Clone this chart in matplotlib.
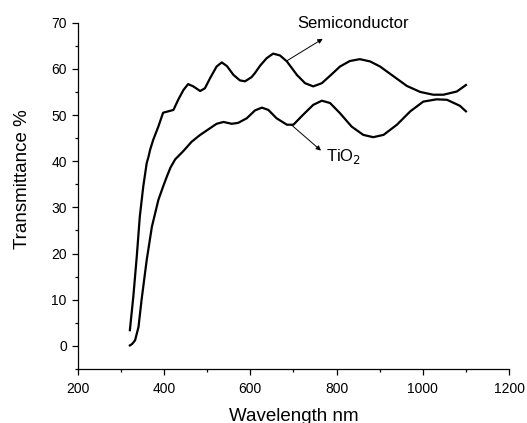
import matplotlib
matplotlib.use("Agg")
import matplotlib.pyplot as plt
from matplotlib.ticker import MultipleLocator

plt.rcParams['font.family'] = ['Liberation Sans', 'DejaVu Sans']

# =========================
# Data
# =========================
semi_nm = [321, 329, 337, 344, 352, 360, 364, 368, 375, 387, 398, 410, 422,
           433, 445, 456, 468, 484, 495, 507, 522, 534, 546, 561, 576, 588,
           603, 611, 623, 638, 653, 669, 685, 708, 727, 746, 766, 785, 808,
           831, 854, 878, 901, 932, 963, 994, 1024, 1048, 1079, 1100]
semi_T = [3.4, 10.7, 19.4, 28.0, 34.5, 39.6, 40.9, 42.5, 44.6, 47.5, 50.5,
          50.8, 51.1, 53.3, 55.4, 56.7, 56.2, 55.2, 55.8, 58.0, 60.5, 61.4,
          60.6, 58.7, 57.5, 57.3, 58.2, 59.1, 60.7, 62.3, 63.3, 62.9, 61.6,
          58.7, 56.9, 56.2, 56.9, 58.5, 60.5, 61.7, 62.1, 61.6, 60.5, 58.4,
          56.3, 55.0, 54.4, 54.4, 55.1, 56.5]

tio2_nm = [321, 326, 333, 341, 348, 360, 372, 387, 398, 406, 415, 426, 445,
           464, 484, 503, 522, 538, 557, 572, 592, 611, 627, 642, 661, 685,
           700, 723, 746, 766, 785, 808, 835, 862, 885, 909, 940, 971, 1001,
           1032, 1056, 1086, 1100]
tio2_T = [0.1, 0.4, 1.2, 4.1, 9.9, 18.6, 25.8, 31.6, 34.5, 36.5, 38.6, 40.4,
          42.2, 44.2, 45.7, 46.9, 48.1, 48.5, 48.1, 48.3, 49.3, 51.0, 51.6,
          51.1, 49.3, 47.9, 47.9, 50.1, 52.2, 53.1, 52.6, 50.4, 47.5, 45.7,
          45.2, 45.7, 47.9, 50.8, 52.9, 53.4, 53.3, 52.0, 50.8]


def main():
    fig = plt.figure(figsize=(5.27, 4.23), dpi=100)
    ax = fig.add_axes([0.1474, 0.1277, 0.8186, 0.8187])

    ax.plot(semi_nm, semi_T, color='black', lw=1.6)
    ax.plot(tio2_nm, tio2_T, color='black', lw=1.6)

    ax.set_xlim(200, 1200)
    ax.set_ylim(-5, 70)
    ax.xaxis.set_major_locator(MultipleLocator(200))
    ax.xaxis.set_minor_locator(MultipleLocator(100))
    ax.yaxis.set_major_locator(MultipleLocator(10))
    ax.yaxis.set_minor_locator(MultipleLocator(5))

    for side in ['top', 'right']:
        ax.spines[side].set_visible(False)
    for side in ['left', 'bottom']:
        ax.spines[side].set_linewidth(0.9)

    ax.tick_params(which='major', direction='out', length=4.3, width=0.9,
                   labelsize=10, colors='black')
    ax.tick_params(which='minor', direction='out', length=2.3, width=0.9)
    ax.tick_params(axis='x', which='major', pad=5)

    ax.set_xlabel("Wavelength nm", fontsize=13.5)
    ax.set_ylabel("Transmittance %", fontsize=13.5)
    ax.xaxis.set_label_coords(0.5, -0.114)
    ax.yaxis.set_label_coords(-0.109, 0.549)

    # annotations
    ax.annotate("", xy=(768, 66.5), xytext=(686, 61.8),
                arrowprops=dict(arrowstyle='-|>', color='black', lw=0.7,
                                mutation_scale=7, shrinkA=0, shrinkB=0))
    ax.text(709, 69.9, "Semiconductor", fontsize=12, va='center', ha='left')

    ax.annotate("", xy=(764, 42.3), xytext=(695, 47.9),
                arrowprops=dict(arrowstyle='-|>', color='black', lw=0.7,
                                mutation_scale=7, shrinkA=0, shrinkB=0))
    ax.text(775, 41.1, "TiO$_2$", fontsize=12, va='center', ha='left')

    fig.savefig("out.png", dpi=100)


if __name__ == "__main__":
    main()
